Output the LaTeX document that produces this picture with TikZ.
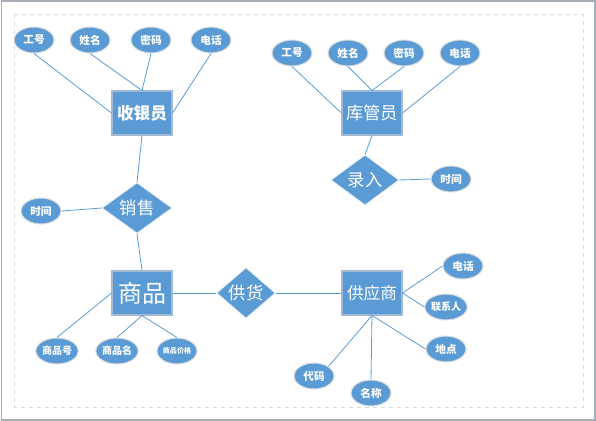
\documentclass[tikz,border=0pt]{standalone}
\usepackage{fontspec}
\setmainfont{Noto Sans CJK SC}
\usetikzlibrary{shapes.geometric}
\definecolor{erblue}{HTML}{5B9BD5}
\definecolor{erborder}{HTML}{A3B9D3}
\definecolor{framegray}{HTML}{A6ADB4}

\tikzset{
  entity/.style={rectangle, fill=erblue, draw=erborder, line width=0.8pt,
    minimum width=45pt, minimum height=33pt, inner sep=0pt, text=white},
  attr/.style={ellipse, fill=erblue, draw=gray!25, line width=0.8pt,
    minimum width=30pt, minimum height=19.5pt, inner sep=0pt, text=white,
    font=\bfseries\fontsize{8}{9}\selectfont},
  relation/.style={diamond, fill=erblue, draw=white!85!erblue, line width=0.6pt,
    minimum width=52.5pt, minimum height=37.5pt, inner sep=0pt, text=white,
    font=\fontsize{13}{15}\selectfont},
  link/.style={draw=erblue, line width=0.6pt}
}

\begin{document}
\begin{tikzpicture}[x=0.75pt, y=-0.75pt]

    % Page frame
    \useasboundingbox (0,0) rectangle (596,421);
    \draw[framegray, line width=1pt] (1.5,1) rectangle (595,420);
    \draw[gray!30, dashed, line width=0.6pt] (14,14) rectangle (583,407);

    % Entities
    \node[entity, font=\bfseries\fontsize{12.5}{14}\selectfont] (syy) at (142,113) {收银员};
    \node[entity, font=\fontsize{13}{15}\selectfont] (kgy) at (372,113) {库管员};
    \node[entity, font=\fontsize{18}{20}\selectfont] (sp) at (142,293) {商品};
    \node[entity, font=\fontsize{12.5}{14}\selectfont] (gys) at (372,293) {供应商};

    % Relations
    \node[relation] (xs) at (137,208) {销售};
    \node[relation, minimum width=51pt] (lr) at (365,180) {录入};
    \node[relation, minimum width=44pt, minimum height=33pt] (gh) at (246,293) {供货};

    % Attributes of the cashier
    \node[attr] (syy-gh) at (34,40) {工号};
    \node[attr] (syy-xm) at (90,40) {姓名};
    \node[attr] (syy-mm) at (151,40) {密码};
    \node[attr] (syy-dh) at (211,40) {电话};

    % Attributes of the storekeeper
    \node[attr] (kgy-gh) at (292,53) {工号};
    \node[attr] (kgy-xm) at (348,53) {姓名};
    \node[attr] (kgy-mm) at (404,53) {密码};
    \node[attr] (kgy-dh) at (460,53) {电话};

    % Attributes of the goods
    \node[attr, font=\bfseries\fontsize{7.5}{9}\selectfont] (sp-bh) at (57,351) {商品号};
    \node[attr, font=\bfseries\fontsize{7.5}{9}\selectfont] (sp-mc) at (117,351) {商品名};
    \node[attr, font=\bfseries\fontsize{5.3}{6}\selectfont] (sp-jg) at (177,351) {商品价格};

    % Attributes of the supplier
    \node[attr] (gys-dh) at (463,266) {电话};
    \node[attr, font=\bfseries\fontsize{7.5}{9}\selectfont] (gys-lxr) at (446,307) {联系人};
    \node[attr] (gys-dd) at (446,349) {地点};
    \node[attr] (gys-dm) at (314,376) {代码};
    \node[attr] (gys-mc) at (371,393) {名称};

    % Attributes of the relations
    \node[attr] (xs-sj) at (41,211) {时间};
    \node[attr] (lr-sj) at (451,179) {时间};

    % Connectors
    \draw[link] (syy-gh.south) -- (syy.west);
    \draw[link] (syy-xm.south) -- (syy.north);
    \draw[link] (syy-mm.south) -- (syy.north);
    \draw[link] (syy-dh.south) -- (syy.east);
    \draw[link] (syy.south) -- (xs.north);
    \draw[link] (xs-sj.east) -- (xs.west);
    \draw[link] (xs.south) -- (sp.north);

    \draw[link] (kgy-gh.south) -- (kgy.west);
    \draw[link] (kgy-xm.south) -- (kgy.north);
    \draw[link] (kgy-mm.south) -- (kgy.north);
    \draw[link] (kgy-dh.south) -- (kgy.east);
    \draw[link] (kgy.south) -- (lr.north);
    \draw[link] (lr.east) -- (lr-sj.west);

    \draw[link] (sp.east) -- (gh.west);
    \draw[link] (gh.east) -- (gys.west);
    \draw[link] (sp-bh.north) -- (sp.west);
    \draw[link] (sp-mc.north) -- (sp.south);
    \draw[link] (sp-jg.north) -- (sp.south);

    \draw[link] (gys.east) -- (gys-dh.west);
    \draw[link] (gys.east) -- (gys-lxr.west);
    \draw[link] (gys.south) -- (gys-dd.west);
    \draw[link] (gys.south) -- (gys-dm.north east);
    \draw[link] (gys.south) -- (gys-mc.north);
\end{tikzpicture}
\end{document}
